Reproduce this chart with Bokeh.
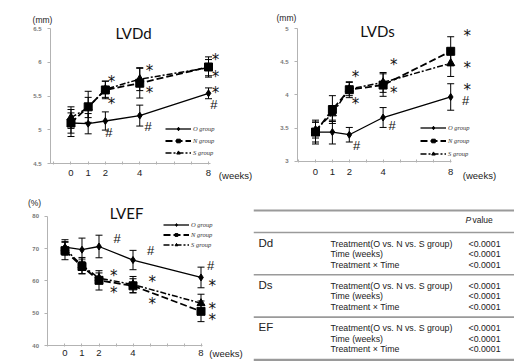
from bokeh.plotting import figure
from bokeh.models import (Range1d, FixedTicker, CustomJSTickFormatter, ColumnDataSource,
                          Whisker, TeeHead, Legend, LegendItem, Label)
from bokeh.layouts import column, row
from bokeh.core.properties import value
from bokeh.embed import file_html
from bokeh.resources import INLINE

# ---------------- data ----------------
weeks = [0, 1, 2, 4, 8]
group_names = ["O group", "N group", "S group"]

lvdd_o = [5.10, 5.09, 5.13, 5.21, 5.54]
lvdd_o_sd = [0.20, 0.15, 0.135, 0.155, 0.08]
lvdd_n = [5.10, 5.34, 5.59, 5.69, 5.93]
lvdd_n_sd = [0.15, 0.23, 0.13, 0.22, 0.15]
lvdd_s = [5.18, 5.33, 5.60, 5.75, 5.92]
lvdd_s_sd = [0.16, 0.15, 0.12, 0.17, 0.12]

lvds_o = [3.44, 3.44, 3.40, 3.66, 3.97]
lvds_o_sd = [0.18, 0.18, 0.11, 0.15, 0.20]
lvds_n = [3.44, 3.78, 4.08, 4.15, 4.66]
lvds_n_sd = [0.15, 0.21, 0.12, 0.17, 0.22]
lvds_s = [3.47, 3.72, 4.09, 4.19, 4.48]
lvds_s_sd = [0.12, 0.12, 0.10, 0.15, 0.20]

lvef_o = [70.5, 69.7, 70.7, 66.5, 61.1]
lvef_o_sd = [2.3, 3.6, 3.5, 3.0, 3.2]
lvef_n = [69.4, 64.5, 60.2, 58.5, 50.6]
lvef_n_sd = [2.8, 2.3, 3.0, 2.2, 3.2]
lvef_s = [70.0, 64.8, 60.9, 58.9, 53.1]
lvef_s_sd = [2.0, 2.5, 1.6, 2.5, 2.8]

lvdd_mark = ["*", "*", "#", "*", "*", "#", "*", "*", "*", "#"]
lvdd_mark_x = [2.36, 2.36, 2.20, 4.57, 4.57, 4.49, 8.41, 8.41, 8.41, 8.31]
lvdd_mark_y = [5.77, 5.44, 4.96, 5.93, 5.61, 5.05, 6.09, 5.84, 5.61, 5.38]

lvds_mark = ["*", "*", "#", "*", "*", "#", "*", "*", "*", "#"]
lvds_mark_x = [2.37, 2.37, 2.43, 4.63, 4.63, 4.54, 8.98, 8.98, 8.98, 8.88]
lvds_mark_y = [4.33, 3.92, 3.24, 4.51, 4.09, 3.54, 4.95, 4.47, 4.13, 3.92]

lvef_mark = ["#", "#", "#", "*", "*", "*", "*", "*", "*", "*"]
lvef_mark_x = [3.07, 5.03, 8.56, 2.87, 2.87, 5.13, 5.13, 8.66, 8.66, 8.66]
lvef_mark_y = [73.1, 69.5, 64.8, 62.7, 57.6, 61.0, 54.2, 59.6, 52.7, 49.3]

lvdd_yticks = [4.5, 5, 5.5, 6, 6.5]
lvds_yticks = [3, 3.5, 4, 4.5, 5]
lvef_yticks = [40, 50, 60, 70, 80]
week_ticks = [-1, 0, 1, 2, 3, 4, 5, 6, 7, 8]
week_labels = [0, 1, 2, 4, 8]

table_groups = ["Dd", "Ds", "EF"]
table_effects = ["Treatment(O vs. N vs. S group)", "Time (weeks)", "Treatment \u00d7 Time"]
table_pvalues = [["<0.0001", "<0.0001", "<0.0001"],
                 ["<0.0001", "<0.0001", "<0.0001"],
                 ["<0.0001", "<0.0001", "<0.0001"]]

FONT = "Liberation Sans"
AXIS_COLOR = "#b3b3b3"


def bare_figure(w, h, xr, yr):
    p = figure(width=w, height=h, x_range=Range1d(*xr), y_range=Range1d(*yr),
               output_backend="svg", toolbar_location=None,
               min_border_left=0, min_border_right=0,
               min_border_top=0, min_border_bottom=0)
    p.title.visible = False
    p.xgrid.visible = False
    p.ygrid.visible = False
    p.outline_line_color = None
    p.background_fill_color = "white"
    p.border_fill_color = "white"
    return p


def make_chart(cfg):
    p = bare_figure(cfg["w"], cfg["h"], cfg["xr"], cfg["yr"])

    xa = p.xaxis[0]
    xa.fixed_location = cfg["yb"][0]
    xa.ticker = FixedTicker(ticks=week_ticks)
    xa.formatter = CustomJSTickFormatter(
        args=dict(show=week_labels),
        code="return show.includes(tick) ? String(tick) : ''")
    xa.bounds = cfg["xb"]
    xa.axis_line_color = AXIS_COLOR
    xa.major_tick_line_color = AXIS_COLOR
    xa.minor_tick_line_color = None
    xa.major_tick_in = 2
    xa.major_tick_out = 1
    xa.major_label_standoff = cfg["xstand"]
    xa.major_label_text_font = FONT
    xa.major_label_text_font_size = "9.5px"
    xa.major_label_text_color = "#222222"

    ya = p.yaxis[0]
    ya.fixed_location = cfg["xb"][0]
    ya.ticker = FixedTicker(ticks=cfg["yticks"])
    ya.formatter = CustomJSTickFormatter(code="return String(tick)")
    ya.bounds = cfg["yb"]
    ya.axis_line_color = AXIS_COLOR
    ya.major_tick_line_color = AXIS_COLOR
    ya.minor_tick_line_color = None
    ya.major_tick_in = 0
    ya.major_tick_out = 3
    ya.major_label_standoff = 6
    ya.major_label_text_font = FONT
    ya.major_label_text_font_style = "bold"
    ya.major_label_text_font_size = "6px"
    ya.major_label_text_color = "#777777"

    styles = [
        dict(dash="solid", lw=1.3, marker="diamond", size=7),
        dict(dash="7 3", lw=1.8, marker="square", size=8),
        dict(dash="6 2 2 2", lw=1.5, marker="triangle", size=8),
    ]
    items = []
    for name, mean, sd, st in zip(group_names, cfg["means"], cfg["sds"], styles):
        src = ColumnDataSource(dict(
            x=weeks, y=mean,
            upper=[m + s for m, s in zip(mean, sd)],
            lower=[m - s for m, s in zip(mean, sd)]))
        w = Whisker(source=src, base="x", upper="upper", lower="lower",
                    line_color="black", line_width=1,
                    upper_head=TeeHead(size=7, line_color="black", line_width=1),
                    lower_head=TeeHead(size=7, line_color="black", line_width=1))
        p.add_layout(w)
        lr = p.line("x", "y", source=src, line_color="black", line_width=st["lw"],
                    line_dash=st["dash"])
        sr = p.scatter("x", "y", source=src, marker=st["marker"], size=st["size"],
                       fill_color="black", line_color="black")
        items.append(LegendItem(label=name, renderers=[lr, sr]))

    leg = Legend(items=items, location=cfg["legloc"], padding=0, margin=0,
                 spacing=cfg["legspace"], glyph_height=cfg["legh"], label_height=cfg["legh"],
                 glyph_width=26, label_standoff=2,
                 label_text_font="Liberation Serif", label_text_font_style="italic",
                 label_text_font_size="6.5px", label_text_color="#333333",
                 border_line_color=None, background_fill_alpha=0)
    p.add_layout(leg)

    stars = [(x, y) for m, x, y in zip(cfg["mark"], cfg["mx"], cfg["my"]) if m == "*"]
    hashes = [(x, y) for m, x, y in zip(cfg["mark"], cfg["mx"], cfg["my"]) if m == "#"]
    if stars:
        p.text(x=[s[0] for s in stars], y=[s[1] for s in stars], text=["*"] * len(stars),
               text_font=value("DejaVu Sans"), text_font_size="15px",
               text_align="center", text_baseline="middle", y_offset=4, text_color="#111111")
    if hashes:
        p.text(x=[s[0] for s in hashes], y=[s[1] for s in hashes], text=["#"] * len(hashes),
               text_font=value(FONT), text_font_size="13px",
               text_align="center", text_baseline="middle", text_color="#111111")

    tx, ty = cfg["title_pos"]
    p.add_layout(Label(x=tx, y=ty, text=cfg["title"], text_font="Lato",
                       text_font_size="15px", text_align="center", text_baseline="middle",
                       text_color="#111111"))
    ux, uy = cfg["unit_pos"]
    p.add_layout(Label(x=ux, y=uy, text=cfg["unit"], text_font=FONT,
                       text_font_size="8.5px", text_align="center", text_baseline="middle",
                       text_color="#222222"))
    wx, wy = cfg["weeks_pos"]
    p.add_layout(Label(x=wx, y=wy, text="(weeks)", text_font=FONT,
                       text_font_size="9.5px", text_align="center", text_baseline="middle",
                       text_color="#222222"))
    return p


p1 = make_chart(dict(
    w=258, h=188, xstand=5,
    xr=(-4.101, 10.908), yr=(4.130, 6.915), xb=(-1.19, 8.1), yb=(4.5, 6.5),
    yticks=lvdd_yticks,
    means=[lvdd_o, lvdd_n, lvdd_s], sds=[lvdd_o_sd, lvdd_n_sd, lvdd_s_sd],
    legloc=(165, 31), legspace=3, legh=9,
    mark=lvdd_mark, mx=lvdd_mark_x, my=lvdd_mark_y,
    title="LVDd", title_pos=(3.64, 6.43), unit="(mm)", unit_pos=(-1.66, 6.63),
    weeks_pos=(9.57, 4.32)))

p2 = make_chart(dict(
    w=256, h=188, xstand=7,
    xr=(-3.373, 11.775), yr=(2.5876, 5.4275), xb=(-1.065, 8.05), yb=(3.0, 5.0),
    yticks=lvds_yticks,
    means=[lvds_o, lvds_n, lvds_s], sds=[lvds_o_sd, lvds_n_sd, lvds_s_sd],
    legloc=(162, 30), legspace=4, legh=9,
    mark=lvds_mark, mx=lvds_mark_x, my=lvds_mark_y,
    title="LVDs", title_pos=(3.67, 4.97), unit="(mm)", unit_pos=(-1.72, 5.17),
    weeks_pos=(9.70, 2.78)))

p3 = make_chart(dict(
    w=253, h=175, xstand=3,
    xr=(-3.794, 11.088), yr=(34.42, 88.68), xb=(-1.0, 8.1), yb=(40, 80),
    yticks=lvef_yticks,
    means=[lvef_o, lvef_n, lvef_s], sds=[lvef_o_sd, lvef_n_sd, lvef_s_sd],
    legloc=(163, 115), legspace=3, legh=7,
    mark=lvef_mark, mx=lvef_mark_x, my=lvef_mark_y,
    title="LVEF", title_pos=(3.62, 81.2), unit="(%)", unit_pos=(-1.79, 84.3),
    weeks_pos=(9.47, 37.5)))

# ---------------- table ----------------
p4 = bare_figure(261, 175, (0, 261), (175, 0))
p4.xaxis.visible = False
p4.yaxis.visible = False

top_y, header_y, first_group_y, group_step, row_step = 22, 44, 54, 42.3, 10.6
sep_ys = [first_group_y - 10 + group_step * (i + 1) for i in range(len(table_groups) - 1)]
bottom_y = first_group_y - 10 + group_step * len(table_groups) + 0.5
p4.segment(x0=[0, 0], y0=[top_y, bottom_y], x1=[261, 261], y1=[top_y, bottom_y],
           line_color="#9a9a9a", line_width=2.2)
p4.segment(x0=[0] * (1 + len(sep_ys)), y0=[header_y] + sep_ys,
           x1=[261] * (1 + len(sep_ys)), y1=[header_y] + sep_ys,
           line_color="#9a9a9a", line_width=1.6)

p4.text(x=[212], y=[31], text=["P"], text_font=value(FONT), text_font_style="italic",
        text_font_size="8.5px", text_baseline="middle", text_color="#222222")
p4.text(x=[219], y=[31], text=["value"], text_font=value(FONT),
        text_font_size="8.5px", text_baseline="middle", text_color="#222222")

gx, gy, ex, ey, px_, py_, et = [], [], [], [], [], [], []
for i, g in enumerate(table_groups):
    y0 = first_group_y + group_step * i
    gx.append(5)
    gy.append(y0)
    for j, eff in enumerate(table_effects):
        ex.append(77)
        ey.append(y0 + 1 + row_step * j)
        et.append(eff)
        px_.append(215)
        py_.append(y0 + 1 + row_step * j)
p4.text(x=gx, y=gy, text=table_groups, text_font=value(FONT), text_font_size="11.5px",
        text_baseline="middle", text_color="#222222")
p4.text(x=ex, y=ey, text=et, text_font=value(FONT), text_font_size="8.8px",
        text_baseline="middle", text_color="#222222")
p4.text(x=px_, y=py_, text=[v for r in table_pvalues for v in r], text_font=value(FONT),
        text_font_size="8.8px", text_baseline="middle", text_color="#222222")

layout = column(row(p1, p2), row(p3, p4))
open("out.html", "w").write(file_html(layout, INLINE))
